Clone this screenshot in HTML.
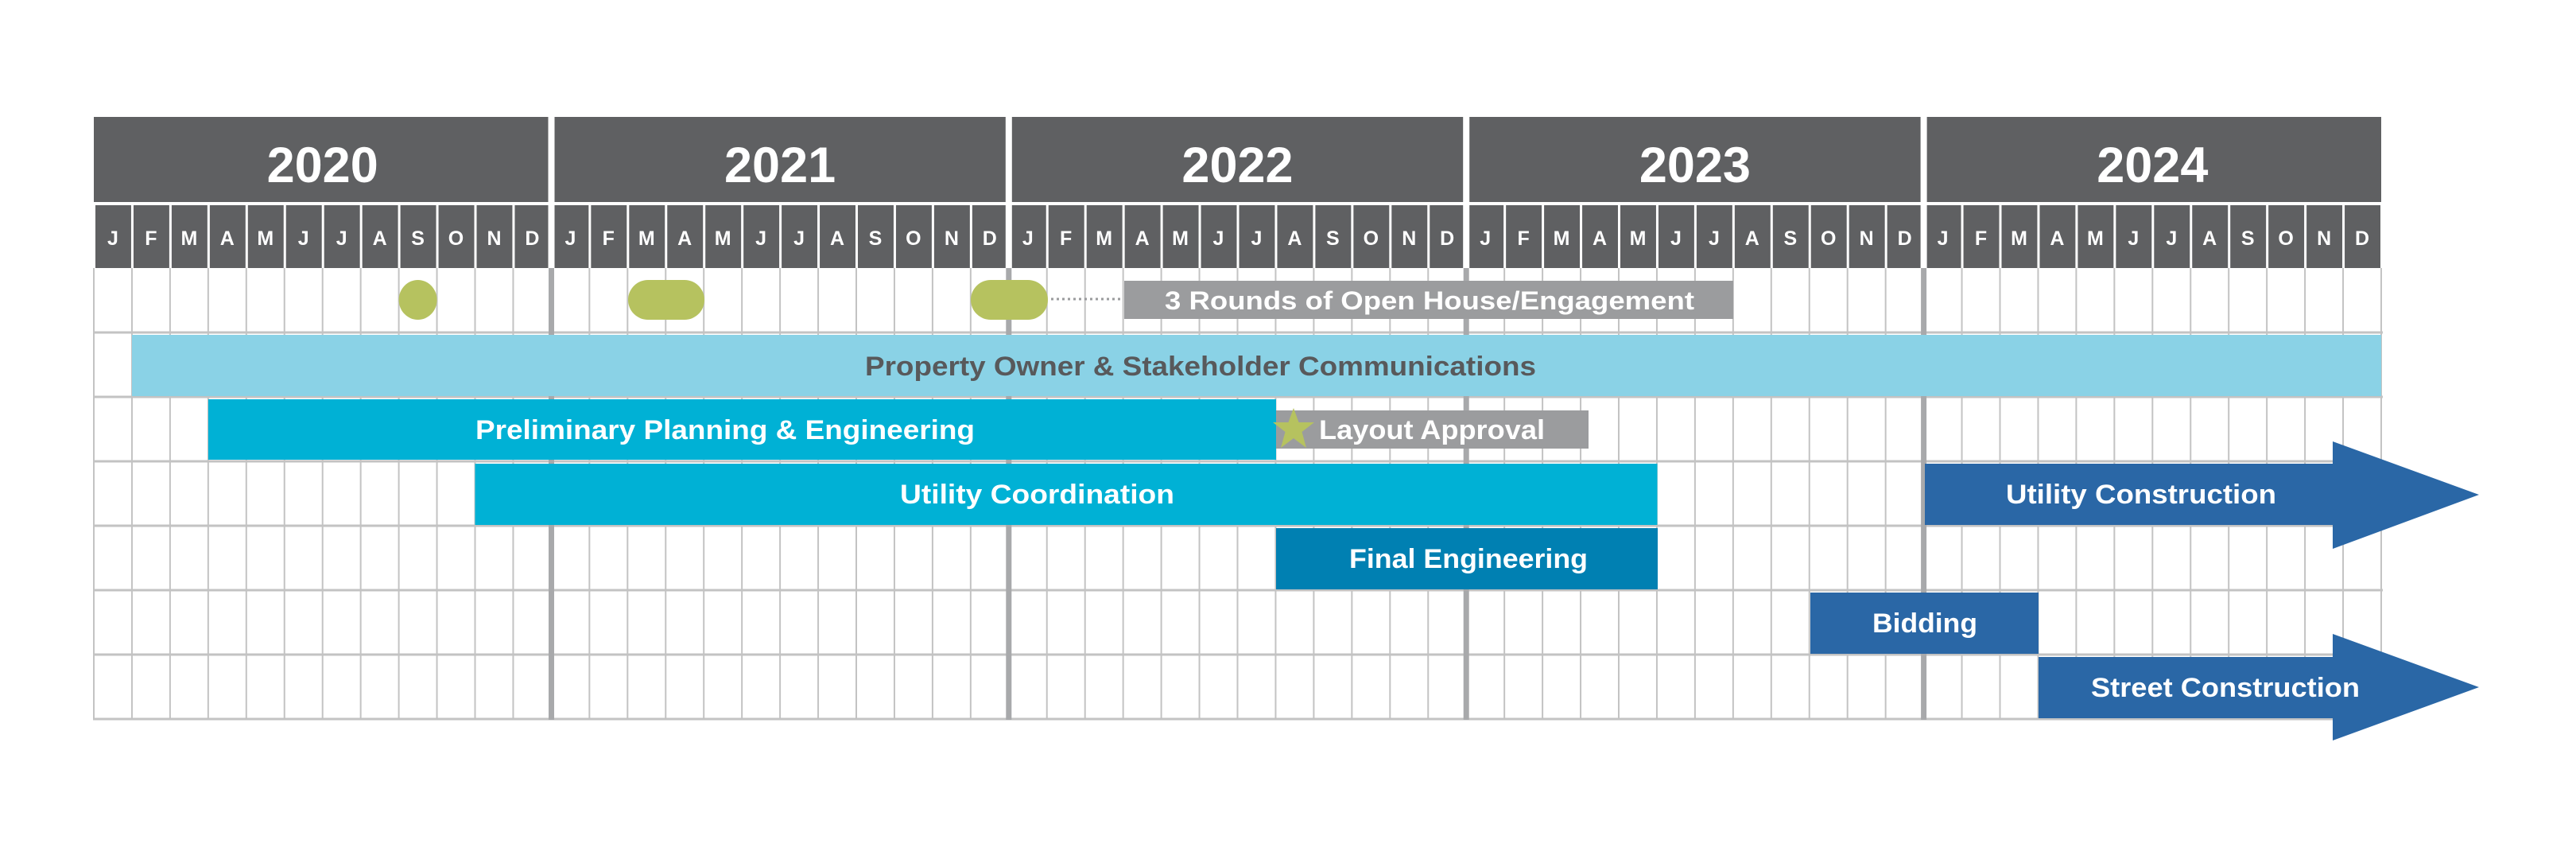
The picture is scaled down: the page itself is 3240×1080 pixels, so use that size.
<!DOCTYPE html>
<html><head><meta charset="utf-8"><style>
html,body{margin:0;padding:0;background:#fff;width:3240px;height:1080px;overflow:hidden}
svg{display:block}
text{font-family:"Liberation Sans",sans-serif;font-weight:bold}
</style></head><body>
<svg width="3240" height="1080" viewBox="0 0 3240 1080" xmlns="http://www.w3.org/2000/svg">
<defs>
<pattern id="vg" patternUnits="userSpaceOnUse" x="117" y="0" width="47.95" height="1080">
<rect x="0" y="0" width="2" height="1080" fill="#c3c3c3"/>
</pattern>
<pattern id="mh" patternUnits="userSpaceOnUse" x="117" y="0" width="47.95" height="1080">
<rect x="0" y="0" width="3" height="1080" fill="#fff"/>
</pattern>
</defs>
<rect width="3240" height="1080" fill="#fff"/>
<!-- body grid -->
<rect x="117" y="337" width="2880" height="568" fill="url(#vg)"/>
<rect x="2994" y="337" width="2" height="568" fill="#c3c3c3"/>
<g fill="#c3c3c3">
<rect x="117" y="416.5" width="2880" height="3"/>
<rect x="117" y="497.5" width="2880" height="3"/>
<rect x="117" y="578.5" width="2880" height="3"/>
<rect x="117" y="659.5" width="2880" height="3"/>
<rect x="117" y="740.5" width="2880" height="3"/>
<rect x="117" y="821.5" width="2880" height="3"/>
<rect x="117" y="902.5" width="2880" height="3"/>
</g>
<g fill="#a8a9ab">
<rect x="690" y="337" width="7" height="568"/>
<rect x="1265.3" y="337" width="7" height="568"/>
<rect x="1840.7" y="337" width="7" height="568"/>
<rect x="2416.1" y="337" width="7" height="568"/>
</g>
<!-- header -->
<rect x="118" y="147" width="2877" height="107" fill="#5f6062"/>
<rect x="118" y="258" width="2877" height="79" fill="#5f6062"/>
<rect x="118" y="258" width="2877" height="79" fill="url(#mh)"/>
<rect x="118" y="254" width="2877" height="4" fill="#fff"/>
<g fill="#fff">
<rect x="689.5" y="147" width="8" height="190"/>
<rect x="1264.8" y="147" width="8" height="190"/>
<rect x="1840.2" y="147" width="8" height="190"/>
<rect x="2415.6" y="147" width="8" height="190"/>
</g>
<g fill="#fff" font-size="63" text-anchor="middle">
<text x="405.7" y="229">2020</text>
<text x="981.1" y="229">2021</text>
<text x="1556.5" y="229">2022</text>
<text x="2131.9" y="229">2023</text>
<text x="2707.3" y="229">2024</text>
</g>
<g fill="#fff" font-size="25" text-anchor="middle">
<text x="142" y="308">J</text><text x="189.9" y="308">F</text><text x="237.9" y="308">M</text><text x="285.8" y="308">A</text><text x="333.8" y="308">M</text><text x="381.7" y="308">J</text><text x="429.7" y="308">J</text><text x="477.6" y="308">A</text><text x="525.6" y="308">S</text><text x="573.5" y="308">O</text><text x="621.5" y="308">N</text><text x="669.4" y="308">D</text>
<text x="717.4" y="308">J</text><text x="765.3" y="308">F</text><text x="813.3" y="308">M</text><text x="861.2" y="308">A</text><text x="909.2" y="308">M</text><text x="957.1" y="308">J</text><text x="1005.1" y="308">J</text><text x="1053" y="308">A</text><text x="1101" y="308">S</text><text x="1148.9" y="308">O</text><text x="1196.9" y="308">N</text><text x="1244.8" y="308">D</text>
<text x="1292.8" y="308">J</text><text x="1340.7" y="308">F</text><text x="1388.7" y="308">M</text><text x="1436.6" y="308">A</text><text x="1484.6" y="308">M</text><text x="1532.5" y="308">J</text><text x="1580.5" y="308">J</text><text x="1628.4" y="308">A</text><text x="1676.4" y="308">S</text><text x="1724.3" y="308">O</text><text x="1772.3" y="308">N</text><text x="1820.2" y="308">D</text>
<text x="1868.2" y="308">J</text><text x="1916.1" y="308">F</text><text x="1964.1" y="308">M</text><text x="2012" y="308">A</text><text x="2060" y="308">M</text><text x="2107.9" y="308">J</text><text x="2155.9" y="308">J</text><text x="2203.8" y="308">A</text><text x="2251.8" y="308">S</text><text x="2299.7" y="308">O</text><text x="2347.7" y="308">N</text><text x="2395.6" y="308">D</text>
<text x="2443.6" y="308">J</text><text x="2491.5" y="308">F</text><text x="2539.5" y="308">M</text><text x="2587.4" y="308">A</text><text x="2635.4" y="308">M</text><text x="2683.3" y="308">J</text><text x="2731.3" y="308">J</text><text x="2779.2" y="308">A</text><text x="2827.2" y="308">S</text><text x="2875.1" y="308">O</text><text x="2923.1" y="308">N</text><text x="2971" y="308">D</text>
</g>
<!-- row 1: open houses -->
<ellipse cx="525.6" cy="377" rx="24" ry="25" fill="#b6c25f"/>
<rect x="790" y="352" width="96" height="50" rx="25" fill="#b6c25f"/>
<rect x="1221" y="352" width="97" height="50" rx="25" fill="#b6c25f"/>
<line x1="1322" y1="376" x2="1412" y2="376" stroke="#9a9b9d" stroke-width="3" stroke-dasharray="3 4"/>
<rect x="1414" y="353" width="766" height="48" fill="#9b9c9e"/>
<text x="1465" y="389" font-size="32" fill="#fff" textLength="666" lengthAdjust="spacingAndGlyphs">3 Rounds of Open House/Engagement</text>
<!-- row 2 -->
<rect x="166" y="421" width="2829" height="77" fill="#8ad2e6"/>
<text x="1088" y="472" font-size="34" fill="#58595b" textLength="844" lengthAdjust="spacingAndGlyphs">Property Owner &amp; Stakeholder Communications</text>
<!-- row 3 -->
<rect x="262" y="502" width="1343" height="76" fill="#00b1d5"/>
<text x="598" y="552" font-size="34" fill="#fff" textLength="628" lengthAdjust="spacingAndGlyphs">Preliminary Planning &amp; Engineering</text>
<rect x="1605" y="516" width="393" height="48" fill="#9b9c9e"/>
<polygon points="1627,513 1633.5,531 1653,531 1637.5,543 1643,563 1627,551 1611,563 1616.5,543 1601,531 1620.5,531" fill="#b6c25f"/>
<text x="1659" y="552" font-size="34" fill="#fff" textLength="284" lengthAdjust="spacingAndGlyphs">Layout Approval</text>
<!-- row 4 -->
<rect x="597.5" y="583" width="1487" height="77" fill="#00b1d5"/>
<text x="1132" y="633" font-size="34" fill="#fff" textLength="345" lengthAdjust="spacingAndGlyphs">Utility Coordination</text>
<polygon points="2421,583 2934,583 2934,555 3118,622 2934,690 2934,660 2421,660" fill="#2a67a6"/>
<text x="2523" y="633" font-size="34" fill="#fff" textLength="340" lengthAdjust="spacingAndGlyphs">Utility Construction</text>
<!-- row 5 -->
<rect x="1605" y="664" width="480" height="77" fill="#0080b2"/>
<text x="1697" y="714" font-size="34" fill="#fff" textLength="300" lengthAdjust="spacingAndGlyphs">Final Engineering</text>
<!-- row 6 -->
<rect x="2277" y="745" width="287" height="77" fill="#2a67a6"/>
<text x="2355" y="795" font-size="34" fill="#fff" textLength="132" lengthAdjust="spacingAndGlyphs">Bidding</text>
<!-- row 7 -->
<polygon points="2564,826 2934,826 2934,797 3118,864 2934,931 2934,903 2564,903" fill="#2a67a6"/>
<text x="2630" y="876" font-size="34" fill="#fff" textLength="338" lengthAdjust="spacingAndGlyphs">Street Construction</text>
</svg>
</body></html>
